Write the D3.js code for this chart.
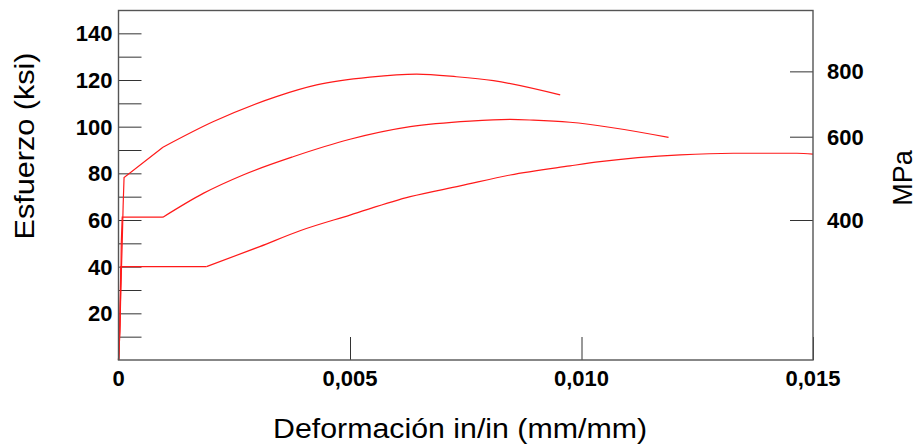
<!DOCTYPE html>
<html>
<head>
<meta charset="utf-8">
<script src="https://cdn.jsdelivr.net/npm/d3@7/dist/d3.min.js"></script>
<style>
  body { margin: 0; background: #fff; }
  svg { display: block; font-family: "Liberation Sans", Arial, sans-serif; }
  .tick-label { font-weight: bold; font-size: 22px; fill: #000; }
  .axis-label { font-size: 27px; fill: #000; }
  .curve { fill: none; stroke: #ff1a1a; stroke-width: 1.2; }
</style>
</head>
<body>
<div id="chart"></div>
<script>
// curvas esfuerzo-deformacion [deformacion, ksi]
const curveHigh = [
  [0, 0], [0.00003, 12], [0.00005, 30], [0.00008, 50], [0.0001, 66], [0.00012, 78.2],
  [0.00096, 91.2], [0.00204, 102.1], [0.00341, 112.9], [0.00428, 117.9],
  [0.00543, 121.2], [0.00644, 122.5], [0.0073, 121.4], [0.0081, 119.7], [0.00954, 113.6]
];
const curveMid = [
  [0, 0], [0.00003, 15], [0.00005, 33], [0.00006, 50], [0.00008, 61.2],
  [0.00096, 61.2], [0.00183, 71.4], [0.00269, 79.3], [0.00377, 87.1], [0.005, 94.6],
  [0.0063, 100], [0.00759, 102.4], [0.00846, 103.1], [0.00896, 102.8], [0.00975, 101.9],
  [0.01188, 95.4]
];
const curveLow = [
  [0, 0], [0.00002, 8], [0.00003, 20], [0.00005, 40], [0.0019, 40],
  [0.00305, 48.6], [0.00392, 55.4], [0.005, 62.1], [0.0063, 70], [0.00738, 74.6],
  [0.00846, 79.3], [0.00975, 83.2], [0.0104, 85], [0.01213, 87.9], [0.01328, 88.6],
  [0.01465, 88.6], [0.015, 88.2]
];
const curves = [curveLow, curveMid, curveHigh];
// indice donde termina el tramo recto (elastico + escalon de fluencia)
const straightEnd = [4, 5, 6];

const xTicks = [0, 0.005, 0.010, 0.015];
const xTickLabels = ['0', '0,005', '0,010', '0,015'];
const yMinorTicks = d3.range(10, 150, 10);
const yTickLabels = [20, 40, 60, 80, 100, 120, 140];
// posiciones (en ksi) de las marcas del eje MPa, tal como aparecen en la figura
const mpaTickKsi = [60, 95.7, 123.7];
const mpaTickLabels = ['400', '600', '800'];

const width = 916, height = 448;
const margin = {top: 10, right: 103, bottom: 88, left: 118.5};
const innerWidth = width - margin.left - margin.right;
const innerHeight = height - margin.top - margin.bottom;
const tickLen = 23;

const svg = d3.select('#chart').append('svg')
  .attr('width', width)
  .attr('height', height);

const xScale = d3.scaleLinear().domain([0, 0.015]).range([0, innerWidth]);
const yScale = d3.scaleLinear().domain([0, 150]).range([innerHeight, 0]);

const g = svg.append('g')
  .attr('transform', `translate(${margin.left},${margin.top})`);

// eje izquierdo (marcas hacia dentro)
const yAxisG = g.append('g').call(
  d3.axisRight(yScale).tickValues(yMinorTicks).tickSize(tickLen).tickFormat('')
);
yAxisG.select('.domain').remove();
yAxisG.selectAll('line').attr('stroke', '#333');

g.selectAll('.ylab').data(yTickLabels).join('text')
  .attr('class', 'tick-label ylab')
  .attr('x', -6)
  .attr('y', d => yScale(d))
  .attr('dy', '0.36em')
  .attr('text-anchor', 'end')
  .text(d => d);

// eje derecho MPa
const rAxisG = g.append('g')
  .attr('transform', `translate(${innerWidth},0)`)
  .call(d3.axisLeft(yScale).tickValues(mpaTickKsi).tickSize(tickLen).tickFormat(''));
rAxisG.select('.domain').remove();
rAxisG.selectAll('line').attr('stroke', '#333');

g.selectAll('.rlab').data(mpaTickKsi).join('text')
  .attr('class', 'tick-label rlab')
  .attr('x', innerWidth + 14)
  .attr('y', d => yScale(d))
  .attr('dy', '0.36em')
  .text((d, i) => mpaTickLabels[i]);

// eje inferior
const xAxisG = g.append('g')
  .attr('transform', `translate(0,${innerHeight})`)
  .call(d3.axisTop(xScale).tickValues(xTicks).tickSize(tickLen).tickFormat(''));
xAxisG.select('.domain').remove();
xAxisG.selectAll('line').attr('stroke', '#333');

g.selectAll('.xlab').data(xTicks).join('text')
  .attr('class', 'tick-label xlab')
  .attr('x', d => xScale(d))
  .attr('y', innerHeight + 26)
  .attr('text-anchor', 'middle')
  .text((d, i) => xTickLabels[i]);

// curvas: tramo recto + tramo de endurecimiento suavizado
const straightLine = d3.line()
  .x(d => xScale(d[0]))
  .y(d => yScale(d[1]));
const smoothLine = d3.line()
  .x(d => xScale(d[0]))
  .y(d => yScale(d[1]))
  .curve(d3.curveMonotoneX);

curves.forEach((c, i) => {
  const k = straightEnd[i];
  g.append('path')
    .attr('class', 'curve')
    .attr('d', straightLine(c.slice(0, k + 1)));
  g.append('path')
    .attr('class', 'curve')
    .attr('d', smoothLine(c.slice(k)));
});

// marco
g.append('rect')
  .attr('x', 0)
  .attr('y', 0.5)
  .attr('width', innerWidth)
  .attr('height', innerHeight - 0.5)
  .attr('fill', 'none')
  .attr('stroke', '#555')
  .attr('stroke-width', 1.4);

// titulos de ejes
svg.append('text')
  .attr('class', 'axis-label')
  .attr('x', 460)
  .attr('y', 438)
  .attr('text-anchor', 'middle')
  .attr('font-size', 28)
  .attr('textLength', 374)
  .attr('lengthAdjust', 'spacingAndGlyphs')
  .text('Deformación in/in (mm/mm)');

svg.append('text')
  .attr('class', 'axis-label')
  .attr('transform', 'translate(34,146) rotate(-90)')
  .attr('text-anchor', 'middle')
  .attr('textLength', 187)
  .attr('lengthAdjust', 'spacingAndGlyphs')
  .text('Esfuerzo (ksi)');

svg.append('text')
  .attr('class', 'axis-label')
  .attr('transform', 'translate(912,178) rotate(-90)')
  .attr('text-anchor', 'middle')
  .attr('font-size', 29)
  .text('MPa');
</script>
</body>
</html>
